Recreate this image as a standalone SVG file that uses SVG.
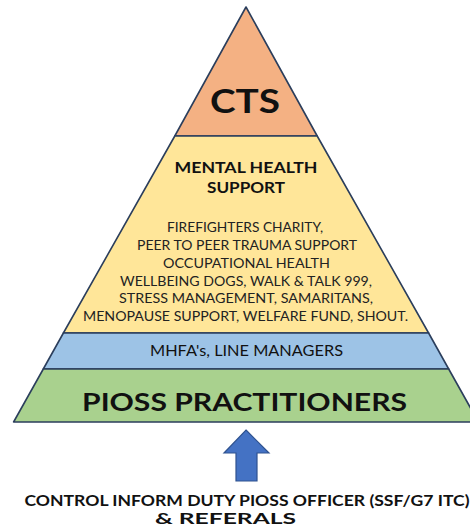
<svg xmlns="http://www.w3.org/2000/svg" width="470" height="526" viewBox="0 0 470 526">
  <style>
    .tier { stroke: #2B3E5C; stroke-width: 1.6; stroke-linejoin: round; }
    .t { font-family: Lato, "Open Sans", "Liberation Sans", sans-serif; fill: #111; text-anchor: middle; }
    .b { font-weight: bold; }
    .body { font-size: 13.2px; fill: #222; }
  </style>
  <rect width="470" height="526" fill="#ffffff"/>

  <!-- apex (246,7), base y=422, half-width grows 0.56 px per px -->
  <g id="tier-cts">
    <polygon class="tier" fill="#F4B183" points="246,7 317.2,136 174.8,136"/>
    <text class="t b" x="245" y="113" font-size="32" textLength="70" lengthAdjust="spacingAndGlyphs">CTS</text>
  </g>

  <g id="tier-mental-health">
    <polygon class="tier" fill="#FFE699" points="174.8,136 317.2,136 428.6,333 63.4,333"/>
    <text class="t b" x="246" y="173" font-size="15.3" textLength="143" lengthAdjust="spacingAndGlyphs">MENTAL HEALTH</text>
    <text class="t b" x="246" y="193" font-size="15.3" textLength="78" lengthAdjust="spacingAndGlyphs">SUPPORT</text>
    <text class="t body" x="245" y="232" textLength="156" lengthAdjust="spacingAndGlyphs">FIREFIGHTERS CHARITY,</text>
    <text class="t body" x="247" y="250" textLength="220" lengthAdjust="spacingAndGlyphs">PEER TO PEER TRAUMA SUPPORT</text>
    <text class="t body" x="246.5" y="267.5" textLength="167" lengthAdjust="spacingAndGlyphs">OCCUPATIONAL HEALTH</text>
    <text class="t body" x="246" y="285.5" textLength="252" lengthAdjust="spacingAndGlyphs">WELLBEING DOGS, WALK &amp; TALK 999,</text>
    <text class="t body" x="246" y="303" textLength="254" lengthAdjust="spacingAndGlyphs">STRESS MANAGEMENT, SAMARITANS,</text>
    <text class="t body" x="245.5" y="320.5" textLength="325" lengthAdjust="spacingAndGlyphs">MENOPAUSE SUPPORT, WELFARE FUND, SHOUT.</text>
  </g>

  <g id="tier-mhfa">
    <polygon class="tier" fill="#9DC3E6" points="63.4,333 428.6,333 448.7,369 43.3,369"/>
    <text class="t" x="246.5" y="356" font-size="15" fill="#222" textLength="193" lengthAdjust="spacingAndGlyphs">MHFA's, LINE MANAGERS</text>
  </g>

  <g id="tier-pioss">
    <polygon class="tier" fill="#A9D18E" points="43.3,369 448.7,369 478.4,422 13.6,422"/>
    <text class="t b" x="244.5" y="411" font-size="25.5" textLength="325" lengthAdjust="spacingAndGlyphs">PIOSS PRACTITIONERS</text>
  </g>

  <g id="connectors">
    <polygon id="arrow-up" fill="#4472C4" stroke="#2F528F" stroke-width="1.2" stroke-linejoin="miter"
      points="246,430 269,453 257,453 257,481 236,481 236,453 224,453"/>
  </g>

  <g id="referrals">
    <text class="t b" x="247" y="505.5" font-size="15.3" textLength="445" lengthAdjust="spacingAndGlyphs">CONTROL INFORM DUTY PIOSS OFFICER (SSF/G7 ITC)</text>
    <text class="t b" x="225.5" y="523.5" font-size="15.3" textLength="141" lengthAdjust="spacingAndGlyphs">&amp; REFERALS</text>
  </g>
</svg>
